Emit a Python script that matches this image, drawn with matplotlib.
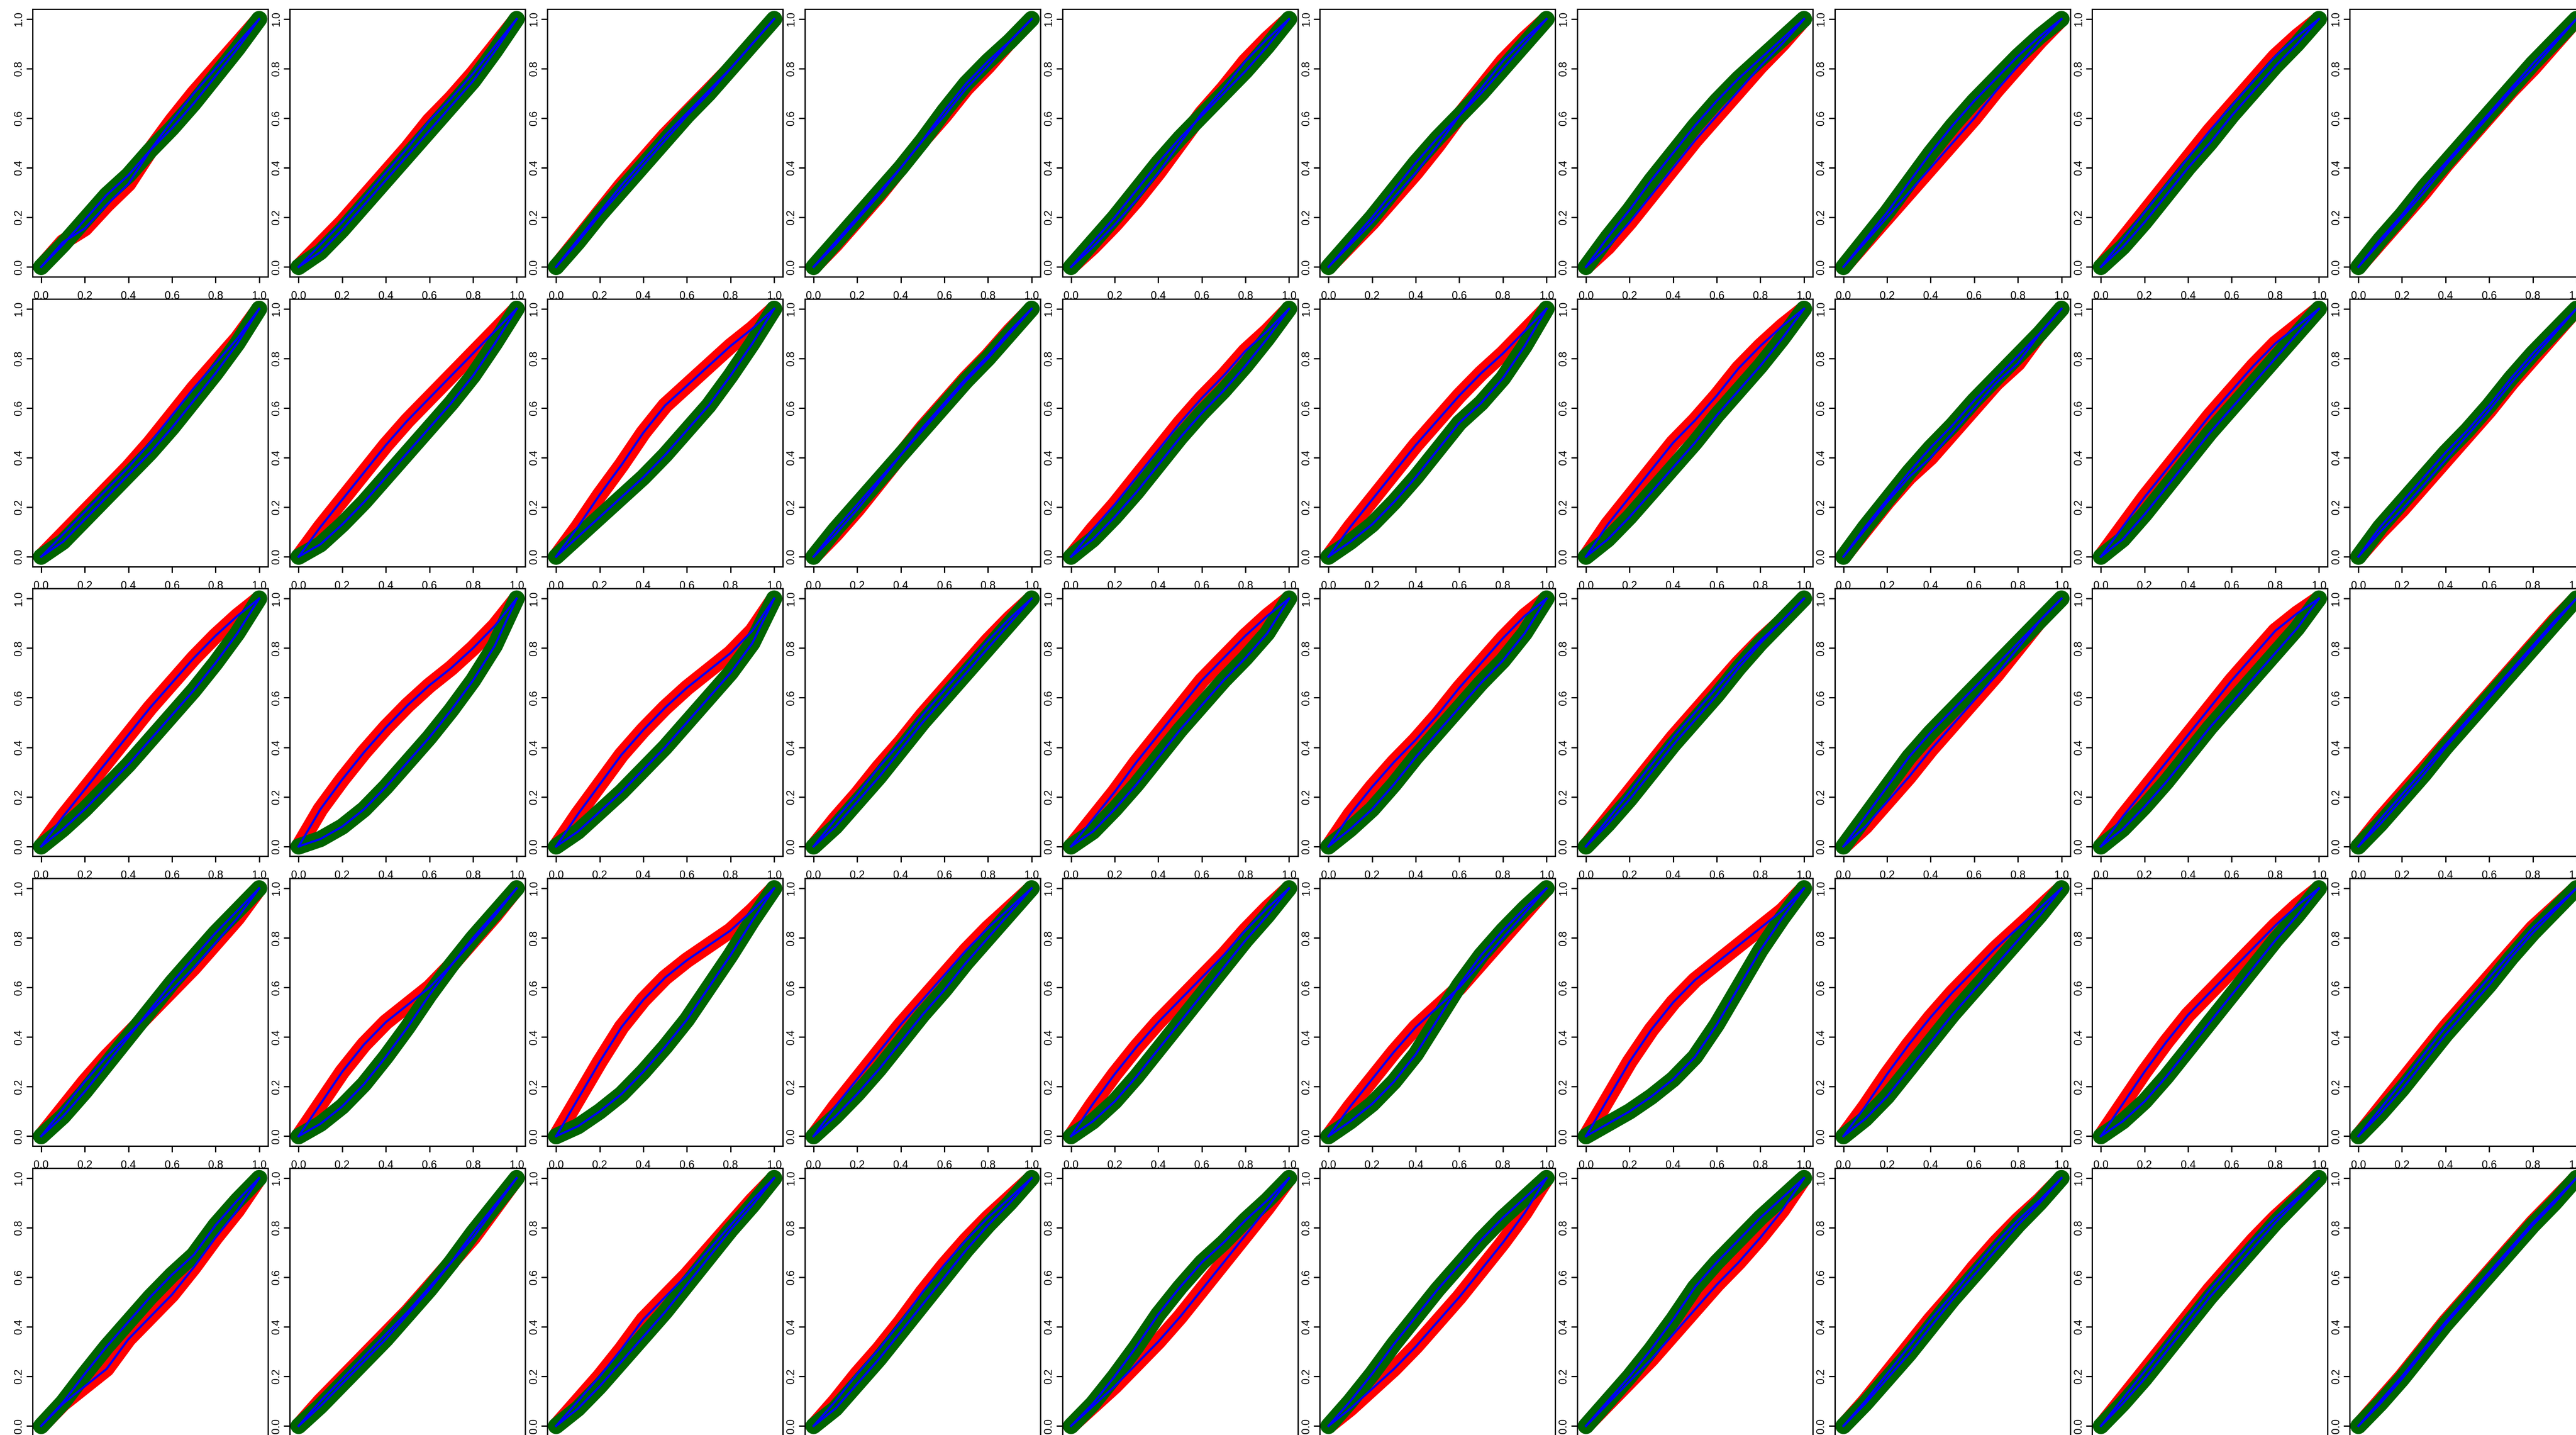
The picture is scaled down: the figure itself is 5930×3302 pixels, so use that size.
import matplotlib
matplotlib.use("Agg")
import matplotlib.pyplot as plt

plt.rcParams['font.family'] = ['Liberation Sans Narrow', 'Liberation Sans', 'DejaVu Sans']

# common x grid of the read-off points
xs = [0.0, 0.1, 0.2, 0.3, 0.4, 0.5, 0.6, 0.7, 0.8, 0.9, 1.0]
ticks = [0.0, 0.2, 0.4, 0.6, 0.8, 1.0]
tick_labels = ["0.0", "0.2", "0.4", "0.6", "0.8", "1.0"]

# red curves, one list per panel, row by row
red_row1 = [
    [0, 0.10, 0.155, 0.25, 0.335, 0.47, 0.59, 0.70, 0.80, 0.90, 1],
    [0, 0.09, 0.18, 0.28, 0.38, 0.48, 0.59, 0.68, 0.78, 0.89, 1],
    [0, 0.11, 0.22, 0.33, 0.43, 0.53, 0.62, 0.71, 0.80, 0.90, 1],
    [0, 0.09, 0.19, 0.29, 0.40, 0.51, 0.61, 0.72, 0.81, 0.91, 1],
    [0, 0.08, 0.17, 0.27, 0.38, 0.50, 0.62, 0.72, 0.83, 0.92, 1],
    [0, 0.09, 0.18, 0.28, 0.38, 0.49, 0.61, 0.72, 0.83, 0.92, 1],
    [0, 0.08, 0.18, 0.29, 0.40, 0.51, 0.61, 0.71, 0.81, 0.90, 1],
    [0, 0.10, 0.20, 0.30, 0.40, 0.50, 0.60, 0.71, 0.81, 0.91, 1],
    [0, 0.11, 0.22, 0.33, 0.44, 0.55, 0.65, 0.75, 0.85, 0.93, 1],
    [0, 0.10, 0.20, 0.30, 0.41, 0.51, 0.61, 0.71, 0.80, 0.90, 1],
]
red_row2 = [
    [0, 0.09, 0.18, 0.27, 0.36, 0.46, 0.57, 0.68, 0.78, 0.88, 1],
    [0, 0.12, 0.23, 0.34, 0.45, 0.55, 0.64, 0.73, 0.82, 0.91, 1],
    [0, 0.12, 0.25, 0.37, 0.50, 0.61, 0.69, 0.77, 0.85, 0.92, 1],
    [0, 0.09, 0.19, 0.30, 0.41, 0.52, 0.62, 0.72, 0.81, 0.91, 1],
    [0, 0.11, 0.21, 0.32, 0.43, 0.54, 0.64, 0.73, 0.83, 0.91, 1],
    [0, 0.12, 0.23, 0.34, 0.45, 0.55, 0.65, 0.74, 0.82, 0.91, 1],
    [0, 0.13, 0.24, 0.35, 0.46, 0.55, 0.65, 0.76, 0.85, 0.93, 1],
    [0, 0.11, 0.22, 0.32, 0.40, 0.50, 0.60, 0.70, 0.78, 0.90, 1],
    [0, 0.12, 0.24, 0.35, 0.46, 0.57, 0.67, 0.77, 0.86, 0.93, 1],
    [0, 0.10, 0.19, 0.29, 0.39, 0.49, 0.59, 0.70, 0.80, 0.90, 1],
]
red_row3 = [
    [0, 0.12, 0.23, 0.34, 0.45, 0.56, 0.66, 0.76, 0.85, 0.93, 1],
    [0, 0.15, 0.27, 0.38, 0.48, 0.57, 0.65, 0.72, 0.80, 0.89, 1],
    [0, 0.13, 0.25, 0.37, 0.47, 0.56, 0.64, 0.71, 0.78, 0.87, 1],
    [0, 0.11, 0.21, 0.32, 0.42, 0.53, 0.63, 0.73, 0.83, 0.92, 1],
    [0, 0.11, 0.22, 0.34, 0.45, 0.56, 0.67, 0.76, 0.85, 0.93, 1],
    [0, 0.13, 0.24, 0.34, 0.43, 0.53, 0.64, 0.74, 0.84, 0.93, 1],
    [0, 0.11, 0.22, 0.33, 0.44, 0.54, 0.64, 0.74, 0.83, 0.91, 1],
    [0, 0.08, 0.18, 0.28, 0.39, 0.49, 0.59, 0.69, 0.80, 0.91, 1],
    [0, 0.12, 0.23, 0.34, 0.45, 0.56, 0.67, 0.77, 0.87, 0.94, 1],
    [0, 0.11, 0.21, 0.31, 0.41, 0.51, 0.61, 0.71, 0.81, 0.91, 1],
]
red_row4 = [
    [0, 0.11, 0.22, 0.32, 0.41, 0.50, 0.59, 0.68, 0.78, 0.88, 1],
    [0, 0.13, 0.26, 0.37, 0.46, 0.53, 0.60, 0.69, 0.79, 0.89, 1],
    [0, 0.15, 0.30, 0.44, 0.55, 0.64, 0.71, 0.77, 0.83, 0.91, 1],
    [0, 0.12, 0.23, 0.34, 0.45, 0.55, 0.65, 0.75, 0.84, 0.92, 1],
    [0, 0.13, 0.25, 0.36, 0.46, 0.55, 0.64, 0.73, 0.83, 0.92, 1],
    [0, 0.12, 0.23, 0.34, 0.44, 0.52, 0.60, 0.70, 0.80, 0.90, 1],
    [0, 0.15, 0.30, 0.43, 0.54, 0.63, 0.70, 0.77, 0.84, 0.91, 1],
    [0, 0.12, 0.25, 0.37, 0.48, 0.58, 0.67, 0.76, 0.84, 0.92, 1],
    [0, 0.13, 0.26, 0.38, 0.49, 0.58, 0.67, 0.76, 0.85, 0.93, 1],
    [0, 0.11, 0.22, 0.33, 0.44, 0.54, 0.64, 0.74, 0.84, 0.92, 1],
]
red_row5 = [
    [0, 0.09, 0.16, 0.23, 0.35, 0.44, 0.53, 0.64, 0.76, 0.87, 1],
    [0, 0.10, 0.19, 0.28, 0.37, 0.46, 0.56, 0.66, 0.76, 0.88, 1],
    [0, 0.10, 0.20, 0.31, 0.43, 0.52, 0.61, 0.71, 0.81, 0.91, 1],
    [0, 0.10, 0.21, 0.31, 0.42, 0.54, 0.65, 0.75, 0.84, 0.92, 1],
    [0, 0.08, 0.16, 0.25, 0.34, 0.44, 0.55, 0.66, 0.77, 0.88, 1],
    [0, 0.07, 0.15, 0.23, 0.32, 0.42, 0.52, 0.63, 0.74, 0.86, 1],
    [0, 0.09, 0.18, 0.27, 0.37, 0.47, 0.57, 0.66, 0.76, 0.87, 1],
    [0, 0.10, 0.21, 0.32, 0.43, 0.53, 0.64, 0.74, 0.83, 0.91, 1],
    [0, 0.11, 0.22, 0.33, 0.44, 0.55, 0.65, 0.75, 0.84, 0.92, 1],
    [0, 0.10, 0.20, 0.31, 0.42, 0.52, 0.62, 0.72, 0.82, 0.91, 1],
]

# green curves
green_row1 = [
    [0, 0.09, 0.19, 0.29, 0.37, 0.47, 0.56, 0.66, 0.77, 0.88, 1],
    [0, 0.06, 0.15, 0.25, 0.35, 0.45, 0.55, 0.65, 0.75, 0.87, 1],
    [0, 0.10, 0.21, 0.31, 0.41, 0.51, 0.61, 0.70, 0.80, 0.90, 1],
    [0, 0.10, 0.20, 0.30, 0.40, 0.51, 0.63, 0.74, 0.83, 0.91, 1],
    [0, 0.10, 0.20, 0.31, 0.42, 0.52, 0.61, 0.70, 0.79, 0.89, 1],
    [0, 0.10, 0.20, 0.31, 0.42, 0.52, 0.61, 0.70, 0.80, 0.90, 1],
    [0, 0.12, 0.23, 0.35, 0.46, 0.57, 0.67, 0.76, 0.84, 0.92, 1],
    [0, 0.11, 0.22, 0.34, 0.46, 0.57, 0.67, 0.76, 0.85, 0.93, 1],
    [0, 0.08, 0.18, 0.29, 0.40, 0.50, 0.61, 0.71, 0.81, 0.90, 1],
    [0, 0.11, 0.21, 0.32, 0.42, 0.52, 0.62, 0.72, 0.82, 0.91, 1],
]
green_row2 = [
    [0, 0.06, 0.15, 0.24, 0.33, 0.42, 0.52, 0.63, 0.74, 0.86, 1],
    [0, 0.05, 0.13, 0.22, 0.32, 0.42, 0.52, 0.62, 0.73, 0.86, 1],
    [0, 0.08, 0.16, 0.24, 0.32, 0.41, 0.51, 0.61, 0.73, 0.86, 1],
    [0, 0.11, 0.21, 0.31, 0.41, 0.51, 0.61, 0.71, 0.80, 0.90, 1],
    [0, 0.07, 0.16, 0.26, 0.37, 0.48, 0.58, 0.67, 0.77, 0.88, 1],
    [0, 0.06, 0.13, 0.22, 0.32, 0.43, 0.54, 0.62, 0.72, 0.85, 1],
    [0, 0.07, 0.16, 0.26, 0.36, 0.46, 0.57, 0.67, 0.77, 0.88, 1],
    [0, 0.12, 0.23, 0.34, 0.44, 0.53, 0.63, 0.72, 0.81, 0.90, 1],
    [0, 0.07, 0.17, 0.28, 0.39, 0.50, 0.60, 0.70, 0.80, 0.90, 1],
    [0, 0.12, 0.22, 0.32, 0.42, 0.51, 0.61, 0.72, 0.82, 0.91, 1],
]
green_row3 = [
    [0, 0.07, 0.15, 0.24, 0.33, 0.43, 0.53, 0.63, 0.74, 0.86, 1],
    [0, 0.03, 0.08, 0.15, 0.24, 0.34, 0.44, 0.55, 0.67, 0.81, 1],
    [0, 0.06, 0.14, 0.22, 0.31, 0.40, 0.50, 0.60, 0.70, 0.82, 1],
    [0, 0.08, 0.18, 0.28, 0.39, 0.50, 0.60, 0.70, 0.80, 0.90, 1],
    [0, 0.06, 0.15, 0.25, 0.36, 0.47, 0.57, 0.67, 0.76, 0.86, 1],
    [0, 0.07, 0.15, 0.25, 0.36, 0.46, 0.56, 0.66, 0.75, 0.86, 1],
    [0, 0.09, 0.19, 0.30, 0.41, 0.51, 0.61, 0.72, 0.82, 0.91, 1],
    [0, 0.12, 0.24, 0.36, 0.46, 0.55, 0.64, 0.73, 0.82, 0.91, 1],
    [0, 0.07, 0.16, 0.26, 0.37, 0.48, 0.58, 0.68, 0.78, 0.88, 1],
    [0, 0.09, 0.19, 0.29, 0.40, 0.50, 0.60, 0.70, 0.80, 0.90, 1],
]
green_row4 = [
    [0, 0.08, 0.18, 0.29, 0.40, 0.51, 0.62, 0.72, 0.82, 0.91, 1],
    [0, 0.05, 0.12, 0.21, 0.32, 0.44, 0.57, 0.69, 0.80, 0.90, 1],
    [0, 0.04, 0.10, 0.17, 0.26, 0.36, 0.47, 0.60, 0.73, 0.87, 1],
    [0, 0.08, 0.17, 0.27, 0.38, 0.49, 0.59, 0.70, 0.80, 0.90, 1],
    [0, 0.06, 0.14, 0.24, 0.35, 0.46, 0.57, 0.68, 0.79, 0.89, 1],
    [0, 0.06, 0.13, 0.22, 0.33, 0.47, 0.61, 0.73, 0.83, 0.92, 1],
    [0, 0.05, 0.10, 0.16, 0.23, 0.32, 0.45, 0.60, 0.75, 0.88, 1],
    [0, 0.07, 0.16, 0.27, 0.38, 0.49, 0.59, 0.69, 0.79, 0.89, 1],
    [0, 0.06, 0.14, 0.24, 0.35, 0.46, 0.57, 0.68, 0.79, 0.89, 1],
    [0, 0.09, 0.19, 0.30, 0.41, 0.51, 0.61, 0.72, 0.82, 0.91, 1],
]
green_row5 = [
    [0, 0.095, 0.21, 0.32, 0.42, 0.52, 0.61, 0.69, 0.81, 0.91, 1],
    [0, 0.08, 0.17, 0.26, 0.35, 0.45, 0.55, 0.66, 0.78, 0.89, 1],
    [0, 0.07, 0.16, 0.26, 0.36, 0.46, 0.57, 0.68, 0.79, 0.89, 1],
    [0, 0.07, 0.17, 0.27, 0.38, 0.49, 0.60, 0.71, 0.81, 0.90, 1],
    [0, 0.09, 0.20, 0.32, 0.45, 0.56, 0.66, 0.74, 0.83, 0.91, 1],
    [0, 0.10, 0.21, 0.33, 0.44, 0.55, 0.65, 0.75, 0.84, 0.92, 1],
    [0, 0.10, 0.20, 0.31, 0.43, 0.56, 0.66, 0.75, 0.84, 0.92, 1],
    [0, 0.09, 0.19, 0.29, 0.40, 0.51, 0.61, 0.71, 0.81, 0.90, 1],
    [0, 0.09, 0.19, 0.30, 0.41, 0.52, 0.62, 0.72, 0.82, 0.91, 1],
    [0, 0.09, 0.19, 0.30, 0.41, 0.51, 0.61, 0.71, 0.81, 0.90, 1],
]

red = [red_row1, red_row2, red_row3, red_row4, red_row5]
green = [green_row1, green_row2, green_row3, green_row4, green_row5]

W, H = 5930, 3302
fig = plt.figure(figsize=(W / 100, H / 100), dpi=100)

# panel grid in pixels (the original is cropped on the right and bottom)
x0, dx, pw = 74.7, 592.7, 542
y0, dy, ph = 21, 666.75, 616

for r in range(5):
    for c in range(10):
        left = x0 + c * dx
        top = y0 + r * dy
        ax = fig.add_axes([left / W, 1 - (top + ph) / H, pw / W, ph / H])
        ax.plot(xs, red[r][c], color='#ff0000', lw=26,
                solid_capstyle='round', solid_joinstyle='round')
        ax.plot(xs, green[r][c], color='#006400', lw=27,
                solid_capstyle='round', solid_joinstyle='round')
        ax.plot(xs, red[r][c], color='#0000ff', lw=3.5)
        ax.plot(xs, green[r][c], color='#0000ff', lw=3.5)
        ax.set_xlim(-0.04, 1.04)
        ax.set_ylim(-0.04, 1.04)
        ax.set_xticks(ticks)
        ax.set_xticklabels(tick_labels)
        ax.set_yticks(ticks)
        ax.set_yticklabels(tick_labels, rotation=90, va='center')
        ax.tick_params(axis='both', length=10, width=2.2, labelsize=18,
                       color='black')
        ax.tick_params(axis='x', pad=13)
        ax.tick_params(axis='y', pad=4)
        # bottom row labels fall outside the cropped canvas
        if r == 4:
            ax.tick_params(axis='x', labelbottom=False)
        for s in ax.spines.values():
            s.set_linewidth(2.2)

fig.savefig("out.png", dpi=100)
